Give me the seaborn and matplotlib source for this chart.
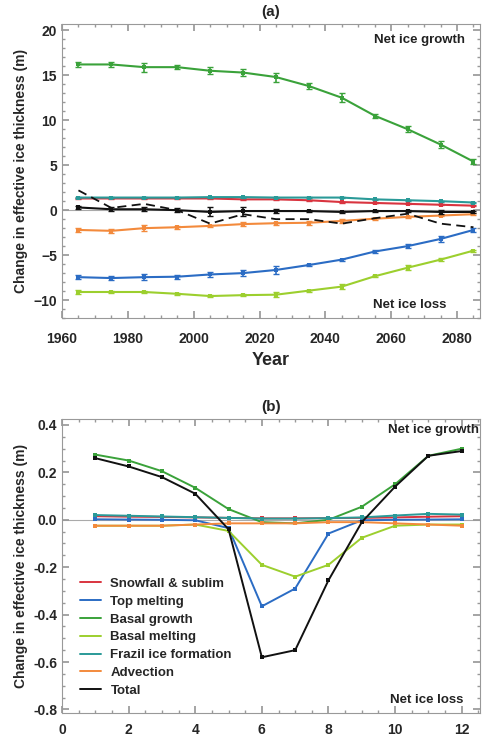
import matplotlib
matplotlib.use('Agg')
import matplotlib.pyplot as plt
from matplotlib.ticker import MultipleLocator, FormatStrFormatter
import pandas as pd
import seaborn as sns

# panel (a): decadal means
years = [1965, 1975, 1985, 1995, 2005, 2015, 2025, 2035, 2045, 2055, 2065, 2075, 2085]
snow_a = [1.3, 1.3, 1.3, 1.3, 1.3, 1.2, 1.2, 1.1, 0.9, 0.8, 0.7, 0.6, 0.5]
top_a = [-7.45, -7.55, -7.45, -7.4, -7.15, -7.0, -6.65, -6.1, -5.5, -4.6, -4.0, -3.2, -2.2]
bgrow_a = [16.2, 16.2, 15.9, 15.9, 15.5, 15.3, 14.8, 13.8, 12.5, 10.5, 9.0, 7.3, 5.4]
bmelt_a = [-9.1, -9.1, -9.1, -9.3, -9.55, -9.45, -9.4, -8.95, -8.5, -7.35, -6.4, -5.5, -4.5]
frazil_a = [1.4, 1.4, 1.4, 1.4, 1.45, 1.45, 1.4, 1.4, 1.4, 1.2, 1.1, 1.0, 0.85]
adv_a = [-2.2, -2.3, -2.0, -1.9, -1.75, -1.55, -1.45, -1.4, -1.2, -0.95, -0.75, -0.6, -0.45]
total_a = [0.3, 0.1, 0.1, 0.0, -0.2, -0.1, -0.1, -0.1, -0.2, -0.1, -0.1, -0.2, -0.2]
dashed_a = [2.2, 0.25, 0.7, 0.0, -1.5, -0.45, -1.0, -1.0, -1.5, -0.9, -0.4, -1.5, -1.9]

err_bgrow = [0.3, 0.3, 0.5, 0.2, 0.4, 0.4, 0.5, 0.3, 0.5, 0.2, 0.35, 0.35, 0.25]
err_top = [0.2, 0.2, 0.3, 0.2, 0.3, 0.35, 0.4, 0.15, 0.1, 0.15, 0.2, 0.3, 0.2]
err_bmelt = [0.2, 0.1, 0.1, 0.1, 0.1, 0.1, 0.25, 0.1, 0.3, 0.1, 0.25, 0.2, 0.1]
err_adv = [0.2, 0.2, 0.35, 0.15, 0.15, 0.2, 0.15, 0.2, 0.2, 0.1, 0.1, 0.1, 0.1]
err_total = [0.15, 0.2, 0.2, 0.2, 0.5, 0.5, 0.25, 0.1, 0.15, 0.1, 0.15, 0.25, 0.15]
err_small = [0.05] * 13

# panel (b): monthly
months = [1, 2, 3, 4, 5, 6, 7, 8, 9, 10, 11, 12]
snow_b = [0.015, 0.013, 0.012, 0.01, 0.008, 0.006, 0.006, 0.007, 0.008, 0.01, 0.013, 0.015]
top_b = [0.002, 0.001, 0.0, -0.002, -0.035, -0.365, -0.29, -0.058, -0.002, 0.0, 0.001, 0.002]
bgrow_b = [0.275, 0.25, 0.205, 0.135, 0.045, -0.01, -0.015, 0.0, 0.055, 0.15, 0.27, 0.3]
bmelt_b = [-0.025, -0.025, -0.025, -0.02, -0.047, -0.19, -0.24, -0.19, -0.076, -0.025, -0.02, -0.02]
frazil_b = [0.02, 0.017, 0.014, 0.011, 0.008, 0.005, 0.005, 0.007, 0.01, 0.018, 0.025, 0.022]
adv_b = [-0.025, -0.025, -0.025, -0.02, -0.015, -0.015, -0.015, -0.01, -0.01, -0.015, -0.02, -0.025]
total_b = [0.26, 0.225, 0.18, 0.11, -0.04, -0.58, -0.55, -0.255, -0.01, 0.14, 0.27, 0.29]

labels = ['Snowfall & sublim', 'Top melting', 'Basal growth', 'Basal melting',
          'Frazil ice formation', 'Advection', 'Total']
colors = ['#d9343f', '#2b6cc4', '#3aa23a', '#9ccf2e', '#2a9a98', '#f38a3c', '#111111']

sns.set_theme(style='ticks')
plt.rcParams['font.family'] = ['Liberation Sans', 'DejaVu Sans']
plt.rcParams['font.weight'] = 'bold'

fig = plt.figure(figsize=(4.82, 7.38), dpi=100)
ax1 = fig.add_axes([0.1286, 0.569, 0.8674, 0.3985])
ax2 = fig.add_axes([0.1286, 0.0339, 0.8674, 0.3983])

series_a = [snow_a, top_a, bgrow_a, bmelt_a, frazil_a, adv_a, total_a]
errs_a = [err_small, err_top, err_bgrow, err_bmelt, err_small, err_adv, err_total]
for vals, err, lab, c in zip(series_a, errs_a, labels, colors):
    df = pd.DataFrame({'Year': years, 'val': vals})
    sns.lineplot(data=df, x='Year', y='val', ax=ax1, color=c, lw=1.5, marker='s',
                 markersize=3, markeredgewidth=0, label=lab, legend=False)
    ax1.errorbar(years, vals, yerr=err, fmt='none', ecolor=c, elinewidth=1.2, capsize=2)
sns.lineplot(x=years, y=dashed_a, ax=ax1, color='#111111', lw=1.3,
             linestyle=(0, (5, 3)), legend=False)

series_b = [snow_b, top_b, bgrow_b, bmelt_b, frazil_b, adv_b, total_b]
for vals, lab, c in zip(series_b, labels, colors):
    df = pd.DataFrame({'Month': months, 'val': vals})
    sns.lineplot(data=df, x='Month', y='val', ax=ax2, color=c, lw=1.4, marker='s',
                 markersize=2.5, markeredgewidth=0, label=lab)

for ax in (ax1, ax2):
    ax.axhline(0, color='#aaaaaa', lw=0.8, zorder=0)
    for s in ax.spines.values():
        s.set_color('#999999')
        s.set_linewidth(0.8)
    ax.tick_params(which='both', direction='in', top=True, right=True, color='#999999')
    ax.tick_params(which='major', length=5, labelsize=10)
    ax.tick_params(axis='y', which='major', pad=3.5)
    ax.tick_params(which='minor', length=2.5)
    ax.set_ylabel('Change in effective ice thickness (m)', fontsize=10, fontweight='bold', labelpad=4)
ax1.tick_params(axis='x', which='major', pad=10)
ax2.tick_params(axis='x', which='major', pad=7.5)

ax1.set_xlim(1960, 2087)
ax1.set_ylim(-12, 20.7)
ax1.xaxis.set_major_locator(MultipleLocator(20))
ax1.xaxis.set_minor_locator(MultipleLocator(5))
ax1.yaxis.set_major_locator(MultipleLocator(5))
ax1.yaxis.set_minor_locator(MultipleLocator(1))
ax1.set_xlabel('Year', fontsize=13, fontweight='bold', labelpad=4)
ax1.set_title('(a)', fontsize=11, fontweight='bold', pad=6)
ax1.text(0.964, 0.946, 'Net ice growth', transform=ax1.transAxes, ha='right', va='center',
         fontsize=9.5, fontweight='bold', color='#222222')
ax1.text(0.919, 0.044, 'Net ice loss', transform=ax1.transAxes, ha='right', va='center',
         fontsize=9.5, fontweight='bold', color='#222222')

ax2.set_xlim(0, 12.55)
ax2.set_ylim(-0.815, 0.425)
ax2.xaxis.set_major_locator(MultipleLocator(2))
ax2.xaxis.set_minor_locator(MultipleLocator(0.5))
ax2.yaxis.set_major_locator(MultipleLocator(0.2))
ax2.yaxis.set_minor_locator(MultipleLocator(0.05))
ax2.yaxis.set_major_formatter(FormatStrFormatter('%.1f'))
ax2.set_xlabel('')
ax2.set_title('(b)', fontsize=11, fontweight='bold', pad=6)
ax2.text(0.997, 0.963, 'Net ice growth', transform=ax2.transAxes, ha='right', va='center',
         fontsize=9.5, fontweight='bold', color='#222222')
ax2.text(0.785, 0.044, 'Net ice loss', transform=ax2.transAxes, ha='left', va='center',
         fontsize=9.5, fontweight='bold', color='#222222')
leg = ax2.legend(loc='lower left', bbox_to_anchor=(0.015, 0.015), frameon=False, fontsize=9.5,
                 handlelength=1.6, handletextpad=0.7, labelspacing=0.42)
for h in leg.get_lines():
    h.set_marker('')
for t in leg.get_texts():
    t.set_fontweight('bold')

for t in ax1.get_xticklabels() + ax1.get_yticklabels() + ax2.get_xticklabels() + ax2.get_yticklabels():
    t.set_fontweight('bold')

fig.savefig('out.png', dpi=100)
